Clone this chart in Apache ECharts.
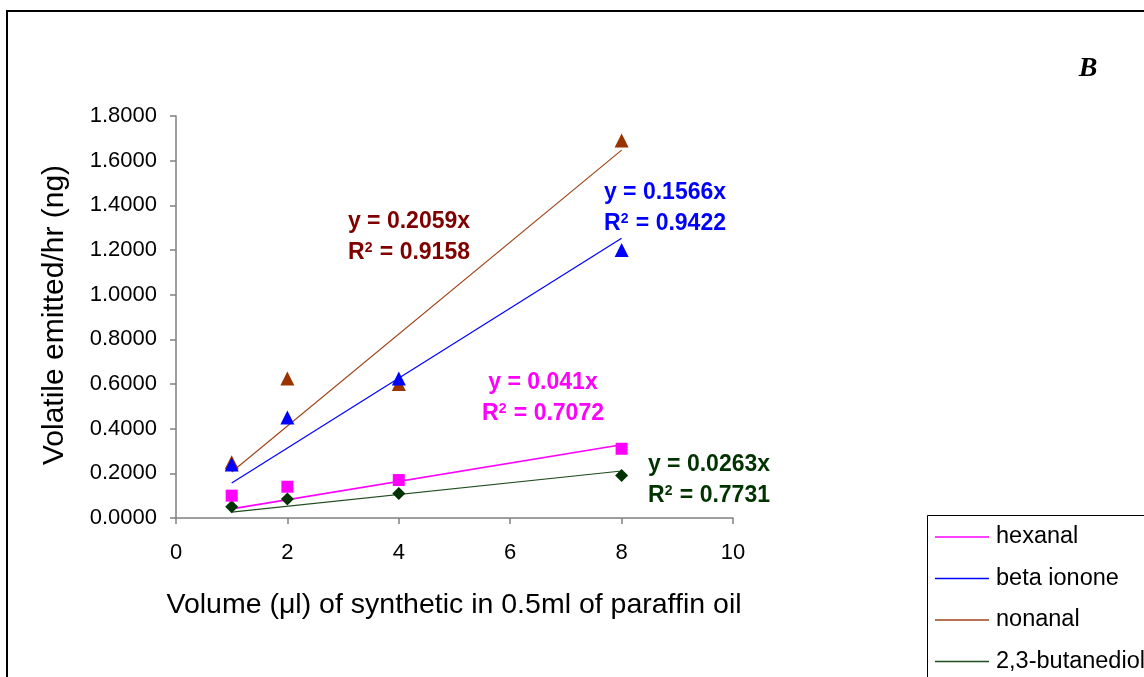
<!DOCTYPE html>
<html><head><meta charset="utf-8">
<script src="https://cdn.jsdelivr.net/npm/echarts@6/dist/echarts.min.js"></script>
<style>html,body{margin:0;padding:0;background:#fff}#c{width:1144px;height:677px}</style>
</head><body><div id="c"></div>
<script>
const xValues = [1, 2, 4, 8];
const hexanal = [0.10, 0.14, 0.17, 0.31];
const betaIonone = [0.24, 0.45, 0.625, 1.20];
const nonanal = [0.25, 0.625, 0.60, 1.69];
const butanediol = [0.05, 0.085, 0.11, 0.19];
const seriesNames = ['hexanal', 'beta ionone', 'nonanal', '2,3-butanediol'];
const slopes = [0.041, 0.1566, 0.2059, 0.0263];
const r2 = ['0.7072', '0.9422', '0.9158', '0.7731'];
const trendX = [1, 8];

const colors = ['#FF00FF', '#0000FF', '#993300', '#003300'];
const lineColors = ['#FF00FF', '#0000FF', '#A0451A', '#1E4D1E'];
const labelColors = ['#FF00FF', '#0000FF', '#800000', '#003300'];
const symbols = ['rect', 'triangle', 'triangle', 'diamond'];
const symSizes = [12, 14, 14, 13];
const dataSets = [hexanal, betaIonone, nonanal, butanediol];
const FONT = 'Liberation Sans, Arial';

const chart = echarts.init(document.getElementById('c'));
const series = [];
seriesNames.forEach((n, i) => {
  series.push({
    name: n, type: 'line', symbol: 'none', silent: true,
    lineStyle: { color: lineColors[i], width: i === 0 ? 1.6 : 1.2 },
    itemStyle: { color: lineColors[i] },
    data: trendX.map(x => [x, slopes[i] * x]), z: 2
  });
});
[3, 0, 2, 1].forEach(i => {
  series.push({
    name: seriesNames[i] + ' pts', type: 'scatter', symbol: symbols[i], symbolSize: symSizes[i],
    itemStyle: { color: colors[i], opacity: 1 },
    data: xValues.map((x, k) => [x, dataSets[i][k]]), z: 3
  });
});

function ann(cx, cy, i) {
  const base = { fontFamily: FONT, fontWeight: 'bold', fontSize: 23 };
  return [
    { type: 'text', x: cx, y: cy, z: 10, silent: true,
      style: Object.assign({ text: 'y = ' + slopes[i] + 'x', fill: labelColors[i], align: 'center', verticalAlign: 'middle' }, base) },
    { type: 'text', x: cx, y: cy + 31, z: 10, silent: true,
      style: {
        text: '{a|R}{s|2}{a| = ' + r2[i] + '}', align: 'center', verticalAlign: 'middle',
        rich: {
          a: Object.assign({ fill: labelColors[i] }, base),
          s: { fill: labelColors[i], fontFamily: FONT, fontWeight: 'bold', fontSize: 14, verticalAlign: 'top', padding: [0, 1, 8, 0] }
        }
      } }
  ];
}

chart.setOption({
  animation: false,
  backgroundColor: '#fff',
  grid: { left: 176, right: 411, top: 116, bottom: 159, containLabel: false },
  xAxis: {
    type: 'value', min: 0, max: 10, interval: 2,
    axisLine: { lineStyle: { color: '#808080', width: 1.5 } },
    axisTick: { show: true, length: 6, lineStyle: { color: '#808080', width: 1.5 } },
    axisLabel: { fontFamily: FONT, fontSize: 22, color: '#000', margin: 24 },
    splitLine: { show: false }
  },
  yAxis: {
    type: 'value', min: 0, max: 1.8, interval: 0.2,
    axisLine: { show: true, lineStyle: { color: '#808080', width: 1.5 } },
    axisTick: { show: true, length: 6, lineStyle: { color: '#808080', width: 1.5 } },
    axisLabel: { fontFamily: FONT, fontSize: 22, color: '#000', margin: 19,
      formatter: v => (Math.round(v * 10) / 10).toFixed(4) },
    splitLine: { show: false }
  },
  legend: {
    data: seriesNames.map(n => ({ name: n, icon: 'rect' })),
    orient: 'vertical', left: 935, top: 524, padding: 0,
    itemWidth: 54, itemHeight: 1.6, itemGap: 15.5,
    textStyle: { fontFamily: FONT, fontSize: 23.5, lineHeight: 26, color: '#000', padding: [0, 0, 0, 2] },
    selectedMode: false
  },
  graphic: [
    { type: 'rect', shape: { x: 7, y: 11, width: 1200, height: 700 }, style: { fill: 'none', stroke: '#000', lineWidth: 2 }, silent: true },
    { type: 'rect', shape: { x: 927.5, y: 515.5, width: 300, height: 200 }, style: { fill: 'none', stroke: '#000', lineWidth: 1 }, silent: true },
    { type: 'text', x: 1088, y: 69, style: { text: 'B', fontFamily: 'Liberation Serif, Times New Roman', fontStyle: 'italic', fontWeight: 'bold', fontSize: 28, fill: '#000', align: 'center', verticalAlign: 'middle' } },
    { type: 'text', x: 454, y: 605, style: { text: 'Volume (μl) of synthetic in 0.5ml of paraffin oil', fontFamily: FONT, fontSize: 28.5, fill: '#000', align: 'center', verticalAlign: 'middle' } },
    { type: 'text', x: 55, y: 315, rotation: Math.PI / 2, style: { text: 'Volatile emitted/hr (ng)', fontFamily: FONT, fontSize: 30, fill: '#000', align: 'center', verticalAlign: 'middle' } },
    ...ann(409, 222, 2),
    ...ann(665, 193, 1),
    ...ann(543, 383, 0),
    ...ann(709, 465, 3)
  ],
  series: series
});
</script></body></html>
